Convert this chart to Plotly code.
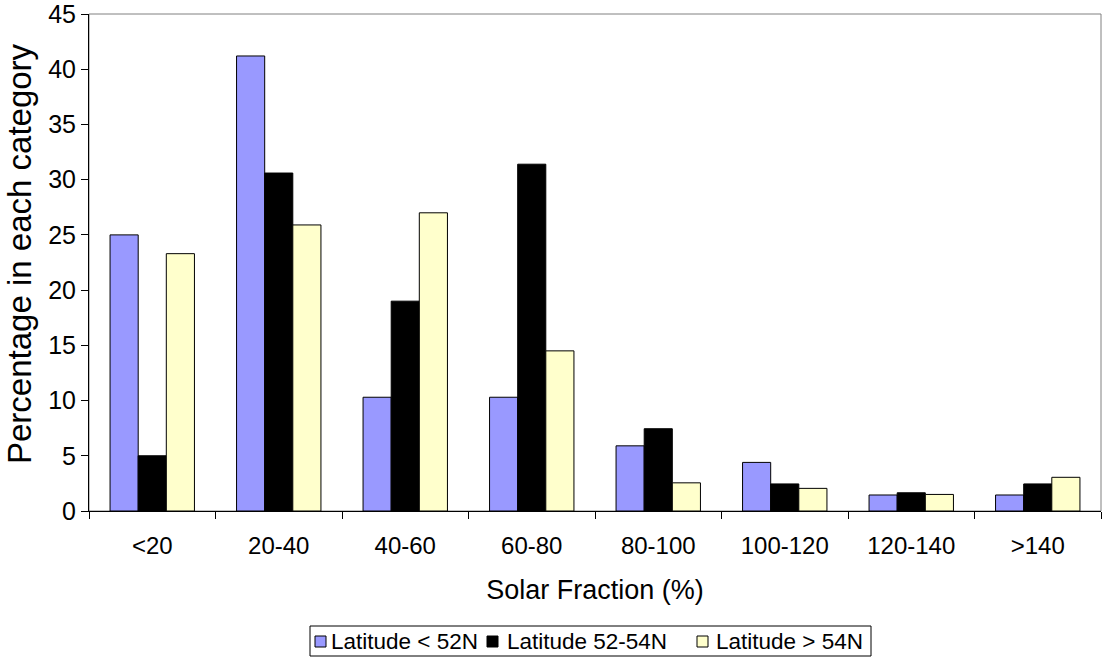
import plotly.graph_objects as go

categories = ["<20", "20-40", "40-60", "60-80", "80-100", "100-120", "120-140", ">140"]
lat_lt52 = [25.0, 41.2, 10.3, 10.3, 5.9, 4.4, 1.45, 1.45]
lat_52_54 = [5.0, 30.6, 19.0, 31.4, 7.45, 2.45, 1.65, 2.45]
lat_gt54 = [23.3, 25.9, 27.0, 14.5, 2.55, 2.05, 1.5, 3.05]
series_names = ["Latitude < 52N", "Latitude 52-54N", "Latitude > 54N"]
colors = ["#9999FF", "#000000", "#FFFFCC"]

FONT = "Liberation Sans, Arial, sans-serif"
W, H = 1103, 659
ML, MR, MT, MB = 89, 2, 14, 148
PW, PH = W - ML - MR, H - MT - MB


def px_x(px):
    return (px - ML) / PW


def px_y(py):
    return (H - MB - py) / PH


fig = go.Figure()
for name, vals, col in zip(series_names, [lat_lt52, lat_52_54, lat_gt54], colors):
    fig.add_trace(go.Bar(
        x=categories, y=vals, name=name, showlegend=False,
        marker=dict(color=col, line=dict(color="#000000", width=1)),
    ))

fig.update_layout(
    width=W, height=H,
    margin=dict(l=ML, r=MR, t=MT, b=MB),
    paper_bgcolor="white", plot_bgcolor="white",
    barmode="group", bargap=0.333, bargroupgap=0,
    font=dict(family=FONT, size=22, color="#000000"),
    showlegend=False,
    xaxis=dict(
        automargin=False,
        showline=True, linecolor="#000000", linewidth=1,
        ticks="outside", ticklen=7, tickcolor="#000000",
        tickson="boundaries", showgrid=False,
        tickfont=dict(family=FONT, size=24),
        ticklabelstandoff=13,
        title=dict(text="Solar Fraction (%)", font=dict(family=FONT, size=27), standoff=22),
    ),
    yaxis=dict(
        automargin=False,
        range=[0, 45], dtick=5,
        showline=True, linecolor="#000000", linewidth=1,
        ticks="outside", ticklen=7, tickcolor="#000000",
        ticklabeloverflow="allow",
        showgrid=False, zeroline=False,
        tickfont=dict(family=FONT, size=25),
    ),
)

# y-axis title placed where the original has it
fig.add_annotation(xref="paper", yref="paper", x=px_x(19), y=px_y(254),
                   text="Percentage in each category", textangle=-90, showarrow=False,
                   xanchor="center", yanchor="middle", borderpad=0,
                   font=dict(family=FONT, size=33, color="#000000"))

# plot-area frame (grey top/right)
fig.add_shape(type="rect", xref="paper", yref="paper", x0=0, x1=1, y0=0, y1=1,
              line=dict(color="#808080", width=1), layer="below")

# legend box below the chart, as in the original
box_l, box_r, box_t, box_b = 310, 871, 626, 656
fig.add_shape(type="rect", xref="paper", yref="paper",
              x0=px_x(box_l), x1=px_x(box_r), y0=px_y(box_b), y1=px_y(box_t),
              line=dict(color="#000000", width=1), fillcolor="white", layer="above")
sym_left = [315, 487, 697]
text_left = [329, 505, 714]
cy = 641
for name, col, sx, tx in zip(series_names, colors, sym_left, text_left):
    fig.add_shape(type="rect", xref="paper", yref="paper",
                  x0=px_x(sx), x1=px_x(sx + 11), y0=px_y(cy + 6), y1=px_y(cy - 5),
                  line=dict(color="#000000", width=1), fillcolor=col, layer="above")
    fig.add_annotation(xref="paper", yref="paper", x=px_x(tx), y=px_y(cy),
                       text=name, showarrow=False, xanchor="left", yanchor="middle",
                       font=dict(family=FONT, size=22.5, color="#000000"))

fig.write_html("out.html", config={"displayModeBar": False},
               post_script="document.body.style.margin='0';")
